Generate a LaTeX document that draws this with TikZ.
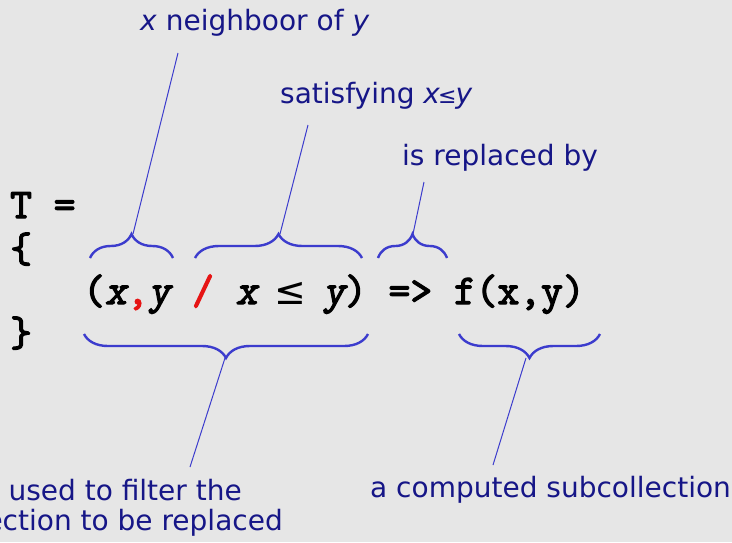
\documentclass[tikz,border=0pt]{standalone}
\usepackage{fontspec}
\setmainfont{DejaVu Sans}
\newfontfamily\codefont{Latin Modern Mono}[FakeBold=3]
\newfontfamily\codeslant{Latin Modern Mono}[FakeBold=3, FakeSlant=0.2]
\newcommand{\var}[1]{{\codeslant #1}}
\usetikzlibrary{decorations.pathreplacing}
\definecolor{bggray}{RGB}{230,230,230}
\definecolor{notenavy}{RGB}{22,22,135}
\definecolor{braceblue}{RGB}{60,60,205}
\definecolor{markred}{RGB}{230,20,20}
\tikzset{
  note/.style={text=notenavy, font=\fontsize{28}{33}\selectfont, inner sep=0pt, anchor=west},
  code/.style={font=\codefont\fontsize{42.3}{46}\selectfont, inner sep=0pt, anchor=base west},
  curly/.style={draw=braceblue, line width=2.4pt, decorate, decoration={brace, amplitude=24pt}},
  pointer/.style={draw=braceblue, line width=1pt}
}
\begin{document}
\begin{tikzpicture}[x=1pt, y=-1pt]
    \fill[bggray] (0,0) rectangle (732,542);
    \useasboundingbox (0,0) rectangle (732,542);
    % the expression
    \node[code] (head) at (10,218) {T =};
    \node[code] (open) at (10,262) {\{};
    \node[code] (expr) at (83,304) {(\var{x}\textcolor{markred}{,}\var{y} \textcolor{markred}{/} \var{x} \makebox[0.525em]{\rmfamily\fontsize{38}{38}\selectfont ≤} \var{y}) => f(x,y)};
    \node[code] (close) at (10,346) {\}};
    % labels
    \node[note] (nblabel) at (140,23) {\textit{x} neighboor of \textit{y}};
    \node[note] (satlabel) at (280,96) {satisfying \textit{x}\kern-2pt{\fontsize{22}{24}\selectfont≤}\kern-1pt\textit{y}};
    \node[note] (replabel) at (402,158) {is replaced by};
    \node[note, anchor=east] (filtlabel) at (242,490) {used to filter the};
    \node[note, anchor=east] (filtlabel2) at (283,523) {ection to be replaced};
    \node[note] (sublabel) at (370,490) {a computed subcollection};
    % braces
    \draw[curly] (90,258) -- (173,258);
    \draw[curly] (195,258) -- (362,258);
    \draw[curly] (378,258) -- (447,258);
    \draw[curly] (368,334) -- (84,334);
    \draw[curly] (600,334) -- (459,334);
    \coordinate (nbtip) at (133,234);
    \coordinate (sattip) at (280,234);
    \coordinate (reptip) at (413,234);
    \coordinate (filttip) at (225,358);
    \coordinate (subtip) at (526,358);
    \coordinate (nbend) at (178,53);
    \coordinate (satend) at (308,125);
    \coordinate (repend) at (424,182);
    \coordinate (filtend) at (190,467);
    \coordinate (subend) at (493,465);
    % pointers
    \draw[pointer] (nbtip) -- (nbend);
    \draw[pointer] (sattip) -- (satend);
    \draw[pointer] (reptip) -- (repend);
    \draw[pointer] (filttip) -- (filtend);
    \draw[pointer] (subtip) -- (subend);
\end{tikzpicture}
\end{document}
